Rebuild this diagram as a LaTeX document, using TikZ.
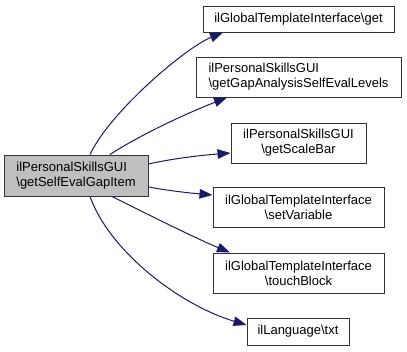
\documentclass[tikz,border=0pt]{standalone}
\usepackage{fontspec}
\setmainfont{Liberation Sans}
\usetikzlibrary{arrows.meta}
\definecolor{edgeblue}{HTML}{191970}
\begin{document}
\begin{tikzpicture}[x=1pt, y=-1pt,
  fn/.style={draw=black!80, line width=1pt, inner sep=0pt,
    font=\fontsize{13}{15}\selectfont},
  call/.style={draw=edgeblue, line width=1pt,
    -{Triangle[length=13pt, width=9.5pt, fill=edgeblue]}}]
  \useasboundingbox (0,0) rectangle (407,351);

  % caller
  \node[fn, fill=gray!50, align=left, minimum width=144pt, minimum height=41pt]
    (self) at (76,175.5) {ilPersonalSkillsGUI\\\textbackslash getSelfEvalGapItem};

  % callees
  \node[fn, align=center, minimum width=191pt, minimum height=26pt]
    (get) at (298.5,19) {ilGlobalTemplateInterface\textbackslash get};
  \node[fn, align=left, minimum width=205pt, minimum height=40pt]
    (gap) at (298.5,77) {ilPersonalSkillsGUI\\\textbackslash getGapAnalysisSelfEvalLevels};
  \node[fn, align=center, minimum width=135pt, minimum height=40pt]
    (scale) at (298.5,143) {ilPersonalSkillsGUI\\\textbackslash getScaleBar};
  \node[fn, align=center, minimum width=171pt, minimum height=40pt]
    (setvar) at (298.5,207) {ilGlobalTemplateInterface\\\textbackslash setVariable};
  \node[fn, align=center, minimum width=171pt, minimum height=40pt]
    (touch) at (298.5,273) {ilGlobalTemplateInterface\\\textbackslash touchBlock};
  \node[fn, align=center, minimum width=102pt, minimum height=27pt]
    (txt) at (298,331.5) {ilLanguage\textbackslash txt};

  % calls
  \draw[call] ([xshift=14pt]self.north) .. controls (110,112) and (185,48) .. ([xshift=-75.5pt]get.south);
  \draw[call] ([xshift=34pt]self.north) .. controls (140,135) and (185,114) .. ([xshift=-71.5pt]gap.south);
  \draw[call] ([yshift=11.5pt]self.east) .. controls (175,158) and (205,155) .. ([yshift=-10pt]scale.west);
  \draw[call] ([yshift=-11.5pt]self.east) .. controls (170,191) and (190,193) .. ([yshift=12pt]setvar.west);
  \draw[call] ([xshift=36pt]self.south) .. controls (145,213) and (195,238) .. ([xshift=-68.5pt]touch.north);
  \draw[call] ([xshift=14pt]self.south) .. controls (110,252) and (180,305) .. ([yshift=6.5pt]txt.west);
\end{tikzpicture}
\end{document}
